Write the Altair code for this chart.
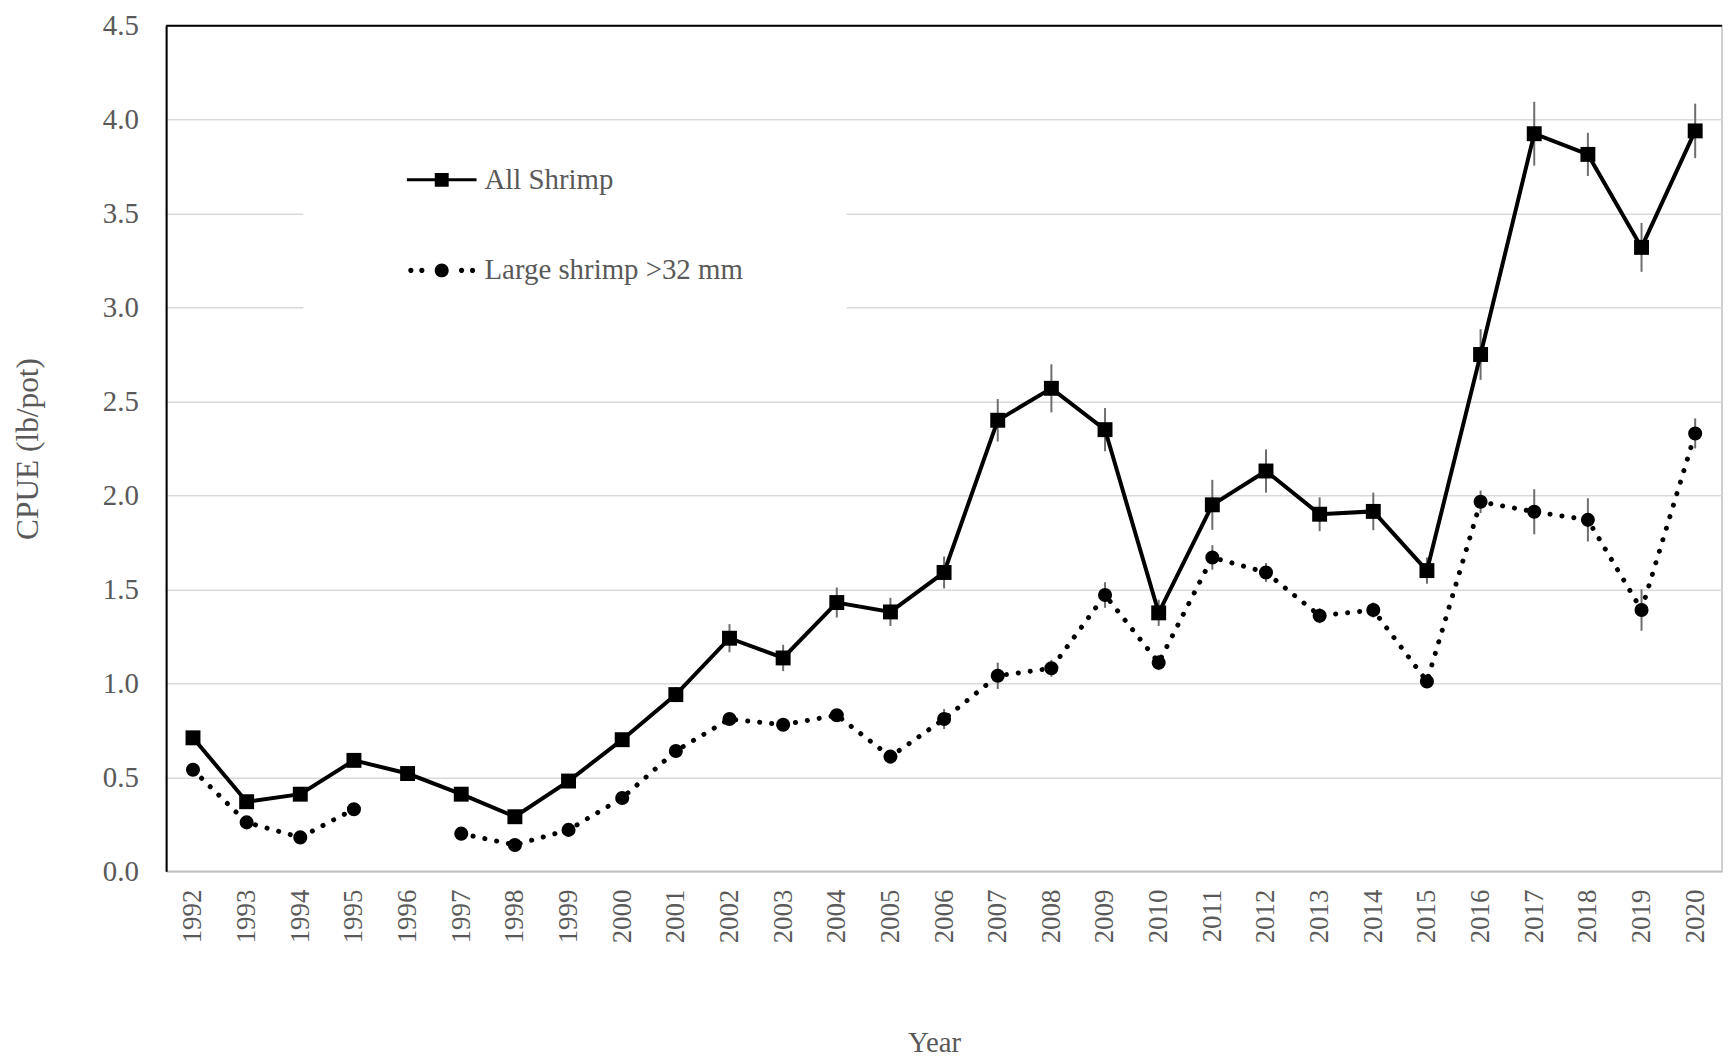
import altair as alt
import pandas as pd
import numpy as np

years = list(range(1992, 2021))
all_shrimp = [0.71, 0.37, 0.41, 0.59, 0.52, 0.41, 0.29, 0.48, 0.70, 0.94,
              1.24, 1.135, 1.43, 1.38, 1.59, 2.40, 2.57, 2.35, 1.375, 1.95,
              2.13, 1.90, 1.915, 1.60, 2.75, 3.925, 3.815, 3.32, 3.94]
all_err = [0.03, 0.02, 0.02, 0.02, 0.02, 0.02, 0.02, 0.02, 0.03, 0.04,
           0.075, 0.07, 0.08, 0.075, 0.085, 0.113, 0.128, 0.115, 0.07, 0.133,
           0.115, 0.09, 0.10, 0.07, 0.135, 0.17, 0.115, 0.13, 0.145]
large = [0.54, 0.26, 0.18, 0.33, np.nan, 0.20, 0.14, 0.22, 0.39, 0.64,
         0.81, 0.78, 0.83, 0.61, 0.81, 1.04, 1.08, 1.47, 1.11, 1.67,
         1.59, 1.36, 1.39, 1.01, 1.966, 1.913, 1.87, 1.39, 2.33]
large_err = [0.02, 0.02, 0.02, 0.02, np.nan, 0.02, 0.02, 0.02, 0.03, 0.03,
             0.03, 0.03, 0.03, 0.03, 0.053, 0.07, 0.045, 0.068, 0.04, 0.065,
             0.05, 0.04, 0.04, 0.03, 0.06, 0.12, 0.115, 0.11, 0.08]
series_names = ["All Shrimp", "Large shrimp >32 mm"]
y_ticks = [0.0, 0.5, 1.0, 1.5, 2.0, 2.5, 3.0, 3.5, 4.0, 4.5]

rows = []
for name, vals, errs in [(series_names[0], all_shrimp, all_err), (series_names[1], large, large_err)]:
    for yr, v, e in zip(years, vals, errs):
        rows.append({"year": str(yr), "series": name, "value": v,
                     "lo": v - e if not np.isnan(v) else np.nan,
                     "hi": v + e if not np.isnan(v) else np.nan})
df = pd.DataFrame(rows)

FONT = "Liberation Serif"
GRAY = "#595959"

x_enc = alt.X("year:O", scale=alt.Scale(type="point", padding=0.5),
              axis=alt.Axis(title="Year", labelAngle=-90, labelPadding=18, ticks=False,
                            labelFontSize=27, titleFontSize=29, titleX=772,
                            domainColor="#bfbfbf", domainWidth=1.5, grid=False,
                            titlePadding=86))
y_scale = alt.Scale(domain=[0, 4.5], nice=False, zero=True)
y_axis = alt.Axis(title="CPUE (lb/pot)", values=y_ticks, format=".1f", ticks=False,
                  labelFontSize=29, titleFontSize=31.5,
                  labelPadding=28, domainColor="black", domainWidth=2,
                  gridColor="#d9d9d9", gridWidth=1.5, titlePadding=58)

base = alt.Chart(df)

err = base.mark_rule(color="#6e6e6e", strokeWidth=2).encode(
    x=x_enc, y=alt.Y("lo:Q", scale=y_scale, axis=y_axis), y2="hi:Q")

line_all = base.transform_filter(alt.datum.series == series_names[0]).mark_line(
    color="black", strokeWidth=4).encode(x=x_enc, y=alt.Y("value:Q", scale=y_scale, axis=y_axis))

line_large = base.transform_filter(alt.datum.series == series_names[1]).mark_line(
    color="black", strokeWidth=5, strokeDash=[0.1, 12], strokeCap="round",
    invalid="break-paths-show-domains").encode(
    x=x_enc, y=alt.Y("value:Q", scale=y_scale, axis=y_axis))

pts_all = base.transform_filter(alt.datum.series == series_names[0]).mark_point(
    shape="square", filled=True, size=225, color="black", opacity=1).encode(
    x=x_enc, y=alt.Y("value:Q", scale=y_scale, axis=y_axis))

pts_large = base.transform_filter(alt.datum.series == series_names[1]).mark_point(
    shape="circle", filled=True, size=200, color="black", opacity=1).encode(
    x=x_enc, y=alt.Y("value:Q", scale=y_scale, axis=y_axis))

top_border = alt.Chart(pd.DataFrame({"v": [y_ticks[-1]]})).mark_rule(
    color="black", strokeWidth=2).encode(y=alt.Y("v:Q", scale=y_scale, axis=y_axis))


def circ(cx, r):
    return (f"M{cx - r:.3f},0A{r},{r} 0 1,0 {cx + r:.3f},0"
            f"A{r},{r} 0 1,0 {cx - r:.3f},0Z")


path_all = "M-1,-0.043H1V0.043H-1Z M-0.2,-0.2H0.2V0.2H-0.2Z"
path_large = " ".join([circ(-0.886, 0.075), circ(-0.571, 0.075), circ(0, 0.2),
                       circ(0.571, 0.075), circ(0.886, 0.075)])

legend_layer = base.mark_point(filled=True, opacity=1).encode(
    x=x_enc, y=alt.Y("value:Q", scale=y_scale, axis=y_axis),
    shape=alt.Shape("series:N",
                    scale=alt.Scale(domain=series_names, range=[path_all, path_large]),
                    legend=alt.Legend(title=None, zindex=2,
                                      orient="none", legendX=138, legendY=100,
                                      direction="vertical", symbolSize=4900,
                                      symbolFillColor="black", symbolStrokeColor="black",
                                      symbolStrokeWidth=0, symbolOffset=84, labelOffset=8,
                                      rowPadding=41, padding=20, fillColor="white",
                                      labelFont=FONT, labelFontSize=29, labelColor=GRAY,
                                      labelLimit=1000)),
    color=alt.Color("lo:Q",
                    scale=alt.Scale(domain=[0, 1], range=["white", "white"]),
                    legend=alt.Legend(title=None, zindex=1, orient="none",
                                      legendX=138, legendY=100, direction="horizontal",
                                      gradientLength=546, gradientThickness=192,
                                      gradientStrokeWidth=0, padding=0, values=[]))
).transform_filter("false")

chart = alt.layer(err, line_all, line_large, pts_all, pts_large, top_border, legend_layer).properties(
    width=1564, height=850,
    padding={"left": 4, "top": 1, "right": 0, "bottom": 0},
    background="white",
).configure_view(stroke="#bfbfbf", strokeWidth=1.5).configure_axis(
    labelFont=FONT, labelColor=GRAY,
    titleFont=FONT, titleColor=GRAY, titleFontWeight="normal")

chart.save("out.html", embed_options={"renderer": "svg", "actions": False})
